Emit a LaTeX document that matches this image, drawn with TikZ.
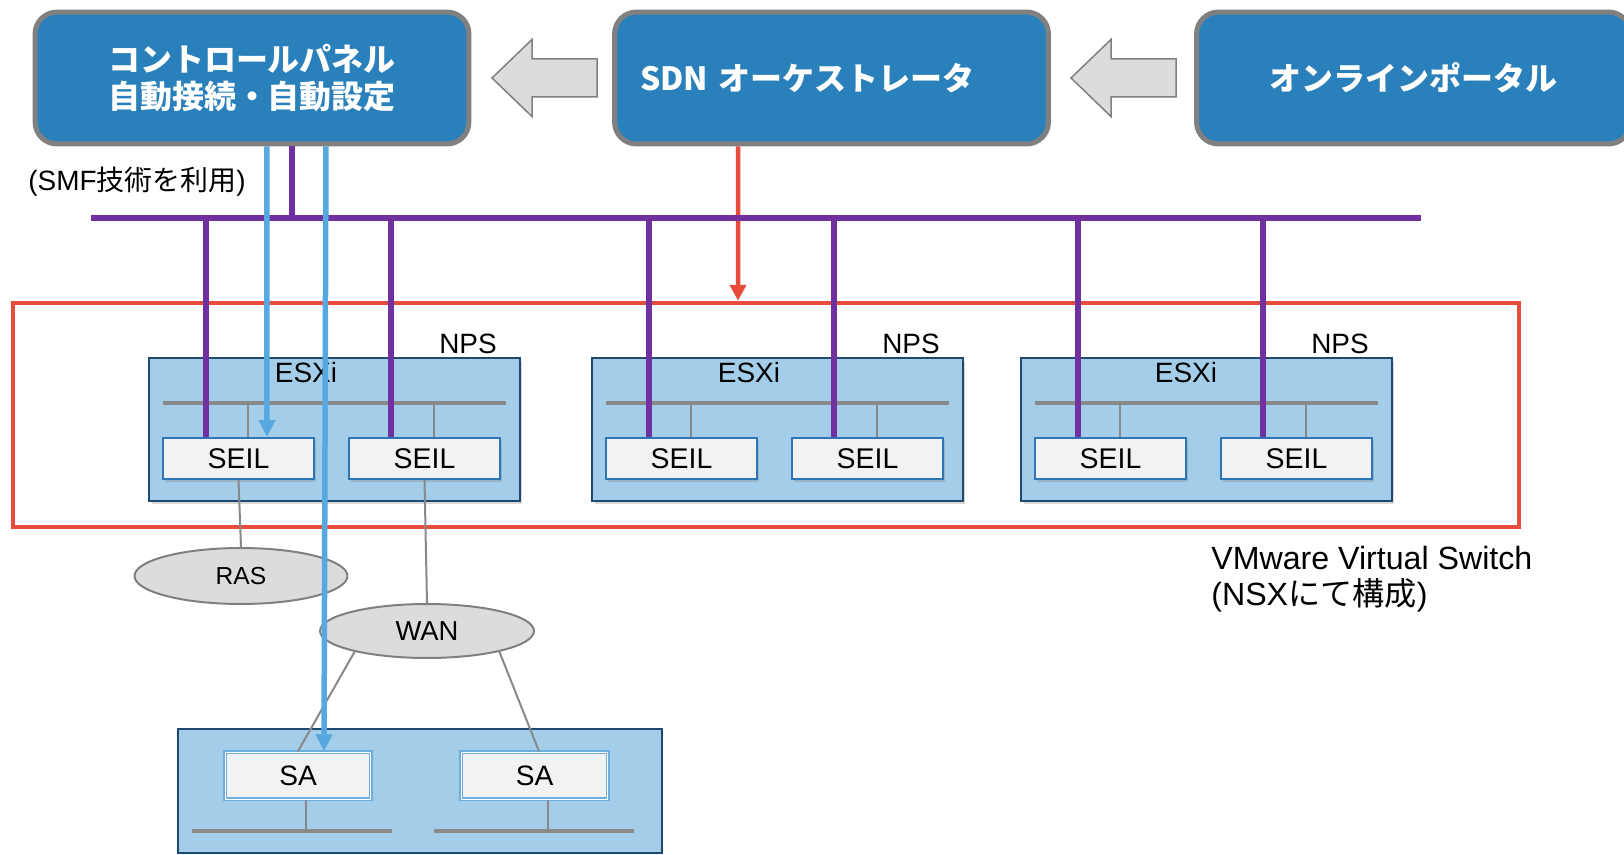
\documentclass[tikz,border=0pt]{standalone}
\usepackage{fontspec}
\setmainfont{Liberation Sans}
\newfontfamily\jpfont{Noto Sans CJK JP}
\usepackage{tikz}
\usetikzlibrary{arrows.meta}
\usetikzlibrary{shapes.geometric}
\usetikzlibrary{shadows}
\definecolor{panelblue}{RGB}{42,128,186}
\definecolor{panelgray}{RGB}{128,128,128}
\definecolor{arrowgray}{RGB}{220,220,220}
\definecolor{smfpurple}{RGB}{112,48,160}
\definecolor{ctrlblue}{RGB}{86,168,224}
\definecolor{nsxred}{RGB}{231,76,60}
\definecolor{esxifill}{RGB}{163,205,232}
\definecolor{esxiedge}{RGB}{30,73,112}
\definecolor{seilfill}{RGB}{242,242,242}
\definecolor{seiledge}{RGB}{46,117,182}
\definecolor{saedge}{RGB}{108,174,224}
\definecolor{langray}{RGB}{137,137,137}
\definecolor{cloudfill}{RGB}{220,220,220}

\begin{document}
\begin{tikzpicture}[
	x=0.02cm, y=-0.02cm,
	panel/.style={draw=panelgray, line width=0.1cm, fill=panelblue,
		rounded corners=0.44cm, minimum width=8.68cm, minimum height=2.64cm,
		inner sep=0pt, text=white, align=center,
		font=\jpfont\bfseries\fontsize{18.2pt}{21.6pt}\selectfont},
	blockarrow/.style={draw=panelgray, line width=0.03cm, fill=arrowgray},
	esxibox/.style={draw=esxiedge, line width=0.04cm, fill=esxifill,
		minimum width=7.42cm, minimum height=2.86cm,
		drop shadow={shadow xshift=0.05cm, shadow yshift=-0.07cm, opacity=0.3}},
	seilbox/.style={draw=seiledge, line width=0.04cm, fill=seilfill,
		minimum width=3.02cm, minimum height=0.82cm, inner sep=0pt,
		font=\fontsize{16.2pt}{19pt}\selectfont,
		drop shadow={shadow xshift=0.04cm, shadow yshift=-0.06cm, opacity=0.3}},
	sabox/.style={draw=saedge, line width=0.03cm, double=white,
		double distance=0.02cm, fill=seilfill, minimum height=0.94cm,
		inner sep=0pt, font=\fontsize{16pt}{19pt}\selectfont},
	cloud/.style={ellipse, draw=panelgray, line width=0.04cm, fill=cloudfill,
		inner sep=0pt, font=\fontsize{14pt}{16pt}\selectfont},
	hosttext/.style={inner sep=0pt, font=\fontsize{15.9pt}{19pt}\selectfont},
	purpleline/.style={draw=smfpurple, line width=0.11cm},
	blueline/.style={draw=ctrlblue, line width=0.11cm,
		-{Triangle[width=0.32cm,length=0.34cm]}},
	redline/.style={draw=nsxred, line width=0.09cm,
		-{Triangle[width=0.32cm,length=0.32cm]}},
	lanline/.style={draw=langray, line width=0.07cm},
	stubline/.style={draw=langray, line width=0.04cm}
	]

	\useasboundingbox (0,0) rectangle (1624,855);
	\fill[white] (0,0) rectangle (1624,855);
	\clip (0,0) rectangle (1624,855);

	\node[panel] (ctrl) at (252,78)
		{コントロールパネル\\自動接続・自動設定};
	\node[panel, text width=7.66cm, align=left] (sdn) at (831.5,78)
		{SDN オーケストレータ};
	\node[panel] (portal) at (1413.5,78)
		{オンラインポータル};
	\foreach \x in {492,1071}
		\draw[blockarrow] (\x,78) -- ++(40,-38.5) -- ++(0,19.5) -- ++(65,0)
			-- ++(0,38) -- ++(-65,0) -- ++(0,19.5) -- cycle;

	\node[anchor=west, inner sep=0pt, font=\fontsize{15.9pt}{18pt}\selectfont]
		(smf) at (28,182) {(SMF{\jpfont 技術を利用})};

	\node[draw=nsxred, line width=0.09cm, minimum width=30.12cm,
		minimum height=4.48cm] (vswitch) at (766,415) {};
	\node[anchor=west, inner sep=0pt, align=left,
		font=\fontsize{18.3pt}{20.5pt}\selectfont]
		(nsx) at (1211,579) {VMware Virtual Switch\\(NSX{\jpfont にて構成})};

	\foreach \i/\x/\e in {1/148/158, 2/591/158, 3/1020/166}{
		\node[esxibox] (esxi\i) at (\x+186.5,429.5) {};
		\node[hosttext] (esxilabel\i) at (\x+\e,372.5) {ESXi};
		\node[hosttext] (nps\i) at (\x+320,344) {NPS};
		\draw[lanline] (\x+15,403) -- (\x+358,403);
		\node[seilbox] (seilA\i) at (\x+90.5,458.5) {SEIL};
		\node[seilbox] (seilB\i) at (\x+276.5,458.5) {SEIL};
		\draw[stubline] ([xshift=0.19cm]seilA\i.north) -- ++(0,-34);
		\draw[stubline] ([xshift=0.19cm]seilB\i.north) -- ++(0,-34);
		\draw[purpleline] ([xshift=-0.65cm]seilA\i.north) -- ++(0,-220);
		\draw[purpleline] ([xshift=-0.67cm]seilB\i.north) -- ++(0,-220);
	}

	\node[draw=esxiedge, line width=0.04cm, fill=esxifill,
		minimum width=9.68cm, minimum height=2.48cm] (site) at (420,791) {};
	\node[sabox, minimum width=2.92cm] (sa1) at (298,775.5) {SA};
	\node[sabox, minimum width=2.94cm] (sa2) at (534.5,775.5) {SA};
	\draw[lanline] (192,831) -- (392,831);
	\draw[lanline] (434,831) -- (634,831);
	\draw[stubline] ([xshift=0.16cm]sa1.south) -- ++(0,32);
	\draw[stubline] ([xshift=0.27cm]sa2.south) -- ++(0,32);

	\node[cloud, minimum width=4.26cm, minimum height=1.12cm] (ras) at (241,576) {RAS};
	\node[cloud, minimum width=4.28cm, minimum height=1.08cm,
		font=\fontsize{15.6pt}{18pt}\selectfont] (wan) at (427,631) {WAN};
	\draw[stubline] (seilA1.south) -- (ras.north);
	\draw[stubline] (seilB1.south) -- (wan.north);
	\draw[stubline] (wan.196) -- (sa1.north);
	\draw[stubline] (wan.-16) -- ([xshift=0.09cm]sa2.north);

	\draw[redline] ([xshift=-1.87cm]sdn.south) -- ([xshift=-0.56cm]vswitch.north);
	\draw[purpleline] (91,218) -- (1421,218);
	\draw[purpleline] ([xshift=0.8cm]ctrl.south) -- ++(0,74);

	\draw[blueline] ([xshift=0.3cm]ctrl.south) -- ([xshift=0.57cm]seilA1.north);
	\draw[blueline] ([xshift=1.48cm]ctrl.south) -- ([xshift=0.52cm]sa1.north);
\end{tikzpicture}
\end{document}
